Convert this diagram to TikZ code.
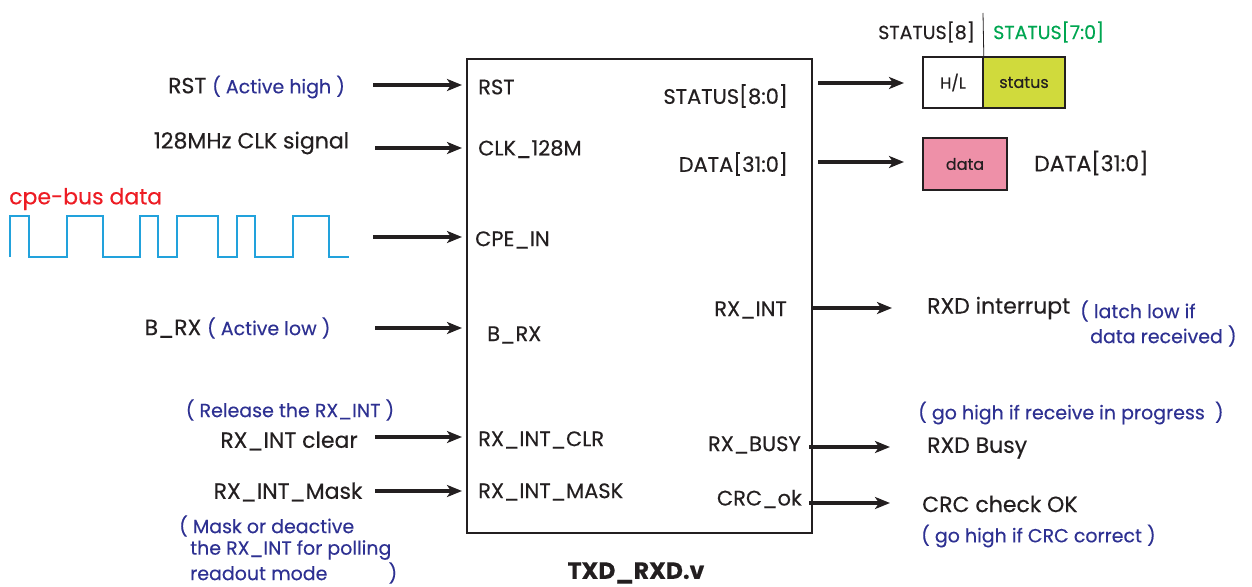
\documentclass[tikz,border=0pt]{standalone}
\usepackage{fontspec}
\setmainfont{Poppins}[FakeBold=0.35]
\usetikzlibrary{arrows.meta}
\definecolor{nblue}{HTML}{2E3192}
\definecolor{nred}{HTML}{ED1C24}
\definecolor{ngreen}{HTML}{00A651}
\definecolor{nwave}{HTML}{22A2DC}
\definecolor{nyel}{HTML}{D0DA3C}
\definecolor{npink}{HTML}{EE90A8}
\definecolor{ntext}{HTML}{231F20}
\begin{document}
\begin{tikzpicture}[x=1pt,y=-1pt,
  lbl/.style={inner sep=0pt, text=ntext, font=\fontsize{22}{26}\selectfont},
  port/.style={inner sep=0pt, text=ntext, font=\fontsize{21}{24}\selectfont},
  note/.style={inner sep=0pt, text=nblue, font=\fontsize{19}{22}\selectfont},
  sig/.style={line width=3.6pt, draw=ntext, -{Stealth[length=15pt,width=12pt,inset=4pt]}},
  regbox/.style={draw=ntext, line width=1.6pt, inner sep=0pt, font=\fontsize{16}{18}\selectfont, text=ntext},
  wave/.style={draw=nwave, line width=2pt}]
\useasboundingbox (0,0) rectangle (1252,586);

% main block
\node[draw=ntext, line width=1.3pt, minimum width=345pt, minimum height=474pt, inner sep=0pt] (blk) at (639.5,296) {};
\node[inner sep=0pt, font=\fontsize{23.5}{26}\selectfont\bfseries, text=ntext] (title) at (636,573) {TXD\_RXD.v};

% inside ports left
\node[port, anchor=west] (pRST) at (478,87) {RST};
\node[port, anchor=west] (pCLK) at (478,149) {CLK\_128M};
\node[port, anchor=west] (pCPE) at (475,240) {CPE\_IN};
\node[port, anchor=west] (pBRX) at (487,335) {B\_RX};
\node[port, anchor=west] (pCLR) at (478,440) {RX\_INT\_CLR};
\node[port, anchor=west] (pMSK) at (478,492) {RX\_INT\_MASK};
% inside ports right
\node[port, anchor=east] (pSTA) at (788,96) {STATUS[8:0]};
\node[port, anchor=east] (pDAT) at (788,164) {DATA[31:0]};
\node[port, anchor=east] (pINT) at (787,310) {RX\_INT};
\node[port, anchor=east] (pBSY) at (801,445) {RX\_BUSY};
\node[port, anchor=east] (pCRC) at (802,499) {CRC\_ok};

% left labels
\node[lbl] (lRST) at (256.5,87) {RST {\color{nblue}\fontsize{19}{22}\selectfont( Active high )}};
\node[lbl] (lCLK) at (251.5,143) {128MHz CLK signal};
\node[lbl, text=nred, anchor=west] (lCPE) at (9,199) {cpe-bus data};
\node[lbl] (lBRX) at (237.5,328) {B\_RX {\color{nblue}\fontsize{19}{22}\selectfont( Active low )}};
\node[note] (nREL) at (290,410) {( Release the RX\_INT )};
\node[lbl] (lCLR) at (289,441) {RX\_INT clear};
\node[lbl] (lMSK) at (288,492) {RX\_INT\_Mask};
\node[note, anchor=west] (nM1) at (179,526) {( Mask or deactive};
\node[note, anchor=west] (nM2) at (190,550) {the RX\_INT for polling};
\node[note, anchor=west] (nM3) at (190,573) {\makebox[207pt][l]{readout mode\hfill)}};

% waveform
\draw[wave] (10,257) -- (10,216) -- (29,216) -- (29,257) -- (67,257) -- (67,216) -- (103,216) -- (103,257)
  -- (140,257) -- (140,216) -- (158,216) -- (158,257) -- (177,257) -- (177,216) -- (218,216) -- (218,257)
  -- (237,257) -- (237,216) -- (255,216) -- (255,257) -- (293,257) -- (293,216) -- (329,216) -- (329,257) -- (349,257);

% left arrows
\coordinate (aRST0) at (373,85);  \coordinate (aRST1) at (462,85);
\coordinate (aCLK0) at (375,148); \coordinate (aCLK1) at (462,148);
\coordinate (aCPE0) at (373,237); \coordinate (aCPE1) at (462,237);
\coordinate (aBRX0) at (375,328); \coordinate (aBRX1) at (462,328);
\coordinate (aCLR0) at (375,437); \coordinate (aCLR1) at (462,437);
\coordinate (aMSK0) at (375,491); \coordinate (aMSK1) at (462,491);
\draw[sig] (aRST0) -- (aRST1);
\draw[sig] (aCLK0) -- (aCLK1);
\draw[sig] (aCPE0) -- (aCPE1);
\draw[sig] (aBRX0) -- (aBRX1);
\draw[sig] (aCLR0) -- (aCLR1);
\draw[sig] (aMSK0) -- (aMSK1);

% right arrows
\coordinate (bSTA0) at (818,83);  \coordinate (bSTA1) at (904,83);
\coordinate (bDAT0) at (818,162); \coordinate (bDAT1) at (904,162);
\coordinate (bINT0) at (811,308); \coordinate (bINT1) at (892,308);
\coordinate (bBSY0) at (809,447); \coordinate (bBSY1) at (890,447);
\coordinate (bCRC0) at (809,503); \coordinate (bCRC1) at (890,503);
\draw[sig] (bSTA0) -- (bSTA1);
\draw[sig] (bDAT0) -- (bDAT1);
\draw[sig] (bINT0) -- (bINT1);
\draw[sig] (bBSY0) -- (bBSY1);
\draw[sig] (bCRC0) -- (bCRC1);

% status register
\node[regbox, fill=white, minimum width=60pt, minimum height=51pt] (hl) at (953,82.5) {H/L};
\node[regbox, fill=nyel, minimum width=82pt, minimum height=51pt] (st) at (1024,82.5) {status};
\node[lbl, font=\fontsize{19}{22}\selectfont] (s8) at (926.5,32) {STATUS[8]};
\node[lbl, font=\fontsize{19}{22}\selectfont, text=ngreen, anchor=west] (s70) at (993,32) {STATUS[7:0]};
\coordinate (div) at (983,13);
\draw[ntext, line width=0.8pt] (div) -- (hl.north east);
\node[regbox, fill=npink, minimum width=84pt, minimum height=52pt] (dat) at (965,164) {data};
\node[lbl, anchor=west] (lDAT) at (1034,163) {DATA[31:0]};

% right labels
\node[lbl, anchor=west] (lINT) at (927,308) {RXD interrupt};
\node[note, anchor=west] (nI1) at (1080,311) {( latch low if};
\node[note, anchor=west] (nI2) at (1090,336) {data received )};
\node[note, anchor=west] (nBSY) at (918,413) {( go high if receive in progress~~)};
\node[lbl, anchor=west] (lBSY) at (927,448) {RXD Busy};
\node[lbl, anchor=west] (lCRC) at (922,504) {CRC check OK};
\node[note, anchor=west] (nCRC) at (921,536) {( go high if CRC correct )};
\end{tikzpicture}
\end{document}
